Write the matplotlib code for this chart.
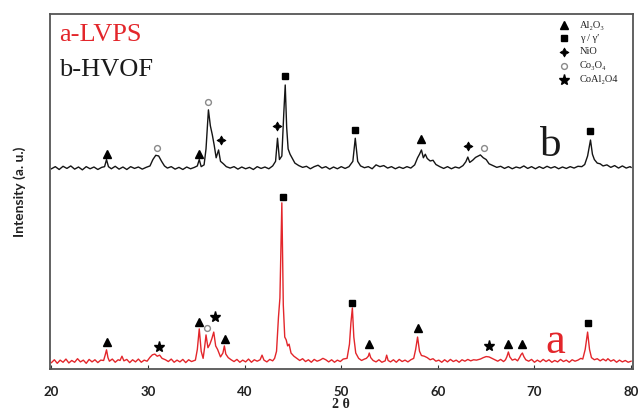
"""
XRD patterns of the LVPS (a) and HVOF (b) coatings with phase markers.
"""

import matplotlib.pyplot as plt

# --- pattern a (LVPS), 2theta / intensity (a.u.) ---
A_TTH = [20.0, 20.3, 20.6, 20.9, 21.2, 21.5, 21.8, 22.1, 22.4, 22.7, 23.0, 23.3, 23.6, 23.9,
         24.2, 24.5, 24.8, 25.1, 25.4, 25.55, 25.7, 25.85, 26.0, 26.3, 26.6, 26.9, 27.1, 27.3,
         27.5, 27.8, 28.1, 28.4, 28.7, 29.0, 29.3, 29.6, 29.9, 30.2, 30.45, 30.7, 30.95, 31.2,
         31.45, 31.8, 32.1, 32.4, 32.7, 33.0, 33.3, 33.6, 33.9, 34.2, 34.5, 34.9, 35.1, 35.3,
         35.5, 35.7, 35.85, 36.0, 36.2, 36.4, 36.6, 36.8, 37.0, 37.2, 37.5, 37.75, 37.9, 38.05,
         38.3, 38.6, 38.9, 39.2, 39.5, 39.8, 40.1, 40.4, 40.7, 41.0, 41.3, 41.6, 41.8, 42.0,
         42.3, 42.6, 42.9, 43.1, 43.3, 43.5, 43.65, 43.85, 44.0, 44.15, 44.3, 44.45, 44.6, 44.8,
         45.1, 45.4, 45.7, 46.0, 46.3, 46.6, 46.9, 47.2, 47.5, 47.8, 48.1, 48.4, 48.7, 49.0,
         49.3, 49.6, 49.9, 50.2, 50.6, 50.85, 51.0, 51.15, 51.3, 51.5, 51.8, 52.1, 52.4, 52.6,
         52.8, 52.9, 53.05, 53.3, 53.6, 53.9, 54.2, 54.55, 54.7, 54.85, 55.1, 55.4, 55.7, 56.0,
         56.3, 56.6, 56.9, 57.2, 57.5, 57.7, 57.9, 58.1, 58.3, 58.6, 58.9, 59.2, 59.5, 59.8,
         60.1, 60.4, 60.7, 61.0, 61.3, 61.6, 61.9, 62.2, 62.5, 62.8, 63.1, 63.4, 63.7, 64.0,
         64.4, 64.7, 65.0, 65.3, 65.6, 65.9, 66.2, 66.5, 66.8, 67.0, 67.15, 67.3, 67.45, 67.7,
         68.0, 68.25, 68.45, 68.6, 68.75, 68.9, 69.1, 69.4, 69.7, 70.0, 70.3, 70.6, 70.9, 71.2,
         71.5, 71.8, 72.1, 72.4, 72.7, 73.0, 73.3, 73.6, 73.9, 74.2, 74.5, 74.8, 75.0, 75.25,
         75.5, 75.7, 75.9, 76.2, 76.5, 76.8, 77.1, 77.4, 77.6, 77.9, 78.2, 78.5, 78.8, 79.1,
         79.4, 79.7, 80.0]
A_INT = [1.8, 2.6, 1.6, 2.5, 1.9, 2.8, 1.7, 2.4, 1.9, 2.9, 2.0, 2.5, 1.6, 2.7,
         2.0, 2.6, 1.8, 2.5, 2.4, 3.8, 5.4, 3.2, 2.2, 2.8, 1.9, 2.6, 2.4, 3.6,
         2.3, 2.7, 1.8, 2.6, 2.0, 2.8, 1.9, 2.5, 2.2, 3.3, 4.0, 4.2, 3.6, 3.9,
         3.0, 2.6, 2.1, 2.8, 1.9, 2.5, 2.0, 2.7, 1.8, 2.6, 2.1, 2.5, 5.5, 11.3,
         5.0, 3.0, 6.0, 9.6, 6.0, 7.0, 8.5, 10.4, 6.5, 5.5, 3.4, 4.5, 6.5, 4.2,
         3.2, 2.6, 2.1, 2.7, 1.9, 2.5, 2.0, 2.8, 1.9, 2.6, 2.2, 2.6, 3.9, 2.5,
         2.0, 2.7, 2.3, 3.0, 5.0, 14.6, 20.0, 46.8, 18.0, 9.0, 8.2, 6.5, 7.0, 4.5,
         3.6, 3.0, 2.4, 2.9, 2.1, 2.6, 1.9, 2.7, 2.2, 2.5, 3.0, 2.6, 2.0, 2.6,
         1.9, 2.5, 2.1, 2.8, 3.0, 7.0, 13.0, 17.2, 9.0, 4.5, 3.0, 2.4, 2.8, 3.0,
         3.6, 4.5, 3.2, 2.4, 2.0, 2.6, 1.9, 2.3, 3.9, 2.4, 2.0, 2.6, 1.9, 2.7,
         2.1, 2.5, 2.0, 2.6, 3.0, 5.5, 9.0, 5.0, 3.8, 3.6, 3.2, 2.6, 2.9, 2.2,
         2.5, 1.9, 2.6, 2.0, 2.7, 2.1, 2.5, 1.9, 2.6, 2.2, 2.7, 2.3, 2.6, 2.5,
         2.8, 3.2, 3.5, 3.4, 3.0, 2.6, 2.2, 2.7, 2.1, 2.6, 3.5, 4.8, 3.4, 2.5,
         2.8, 2.3, 3.2, 4.0, 4.5, 3.5, 2.6, 2.2, 2.7, 1.9, 2.5, 2.0, 2.7, 2.1,
         2.6, 1.9, 2.4, 2.0, 2.7, 2.1, 2.5, 1.9, 2.6, 2.2, 2.5, 3.0, 2.8, 5.5,
         10.4, 5.5, 3.2, 2.6, 2.9, 2.3, 2.8, 2.3, 2.9, 2.2, 2.6, 1.9, 2.5, 2.0,
         2.4, 1.9, 2.2]

# --- pattern b (HVOF) ---
B_TTH = [20.0, 20.4, 20.8, 21.2, 21.6, 22.0, 22.4, 22.8, 23.2, 23.6, 24.0, 24.4, 24.8, 25.2,
         25.5, 25.7, 25.9, 26.2, 26.6, 27.0, 27.4, 27.8, 28.2, 28.6, 29.0, 29.4, 29.8, 30.2,
         30.5, 30.8, 31.1, 31.4, 31.7, 32.0, 32.4, 32.8, 33.2, 33.6, 34.0, 34.4, 34.8, 35.1,
         35.3, 35.5, 35.8, 36.0, 36.25, 36.45, 36.65, 36.85, 37.05, 37.3, 37.5, 37.8, 38.1, 38.5,
         38.9, 39.3, 39.7, 40.1, 40.5, 40.9, 41.3, 41.7, 42.1, 42.5, 42.9, 43.2, 43.4, 43.6,
         43.85, 44.05, 44.2, 44.35, 44.5, 44.7, 44.9, 45.2, 45.6, 46.0, 46.4, 46.8, 47.2, 47.6,
         48.0, 48.4, 48.8, 49.2, 49.6, 50.0, 50.4, 50.8, 51.2, 51.45, 51.7, 52.0, 52.4, 52.8,
         53.2, 53.6, 54.0, 54.4, 54.8, 55.2, 55.6, 56.0, 56.4, 56.8, 57.2, 57.6, 57.9, 58.1,
         58.3, 58.5, 58.7, 58.9, 59.2, 59.5, 59.8, 60.2, 60.6, 61.0, 61.4, 61.8, 62.2, 62.6,
         62.9, 63.1, 63.3, 63.6, 63.9, 64.2, 64.4, 64.7, 65.0, 65.3, 65.7, 66.1, 66.5, 66.9,
         67.3, 67.7, 68.1, 68.5, 68.9, 69.3, 69.7, 70.1, 70.5, 70.9, 71.3, 71.7, 72.1, 72.5,
         72.9, 73.3, 73.7, 74.1, 74.5, 74.9, 75.2, 75.5, 75.8, 76.0, 76.2, 76.5, 76.8, 77.1,
         77.5, 77.9, 78.3, 78.7, 79.1, 79.5, 79.9, 80.0]
B_INT = [56.4, 57.0, 56.2, 57.1, 56.5, 57.2, 56.3, 56.9, 56.1, 57.0, 56.4, 56.9, 56.2, 56.8,
         57.0, 59.0, 57.0, 56.4, 57.1, 56.3, 56.9, 56.2, 57.0, 56.5, 56.9, 56.3, 56.8, 57.2,
         59.0, 60.2, 60.0, 58.5, 57.2, 56.6, 57.0, 56.3, 56.8, 56.2, 56.9, 56.4, 56.8, 57.2,
         59.0, 57.0, 57.5, 62.0, 73.0, 68.5, 66.0, 63.0, 59.5, 61.7, 58.5, 57.8, 57.0, 56.6,
         57.0, 56.3, 56.9, 56.4, 56.8, 56.2, 57.0, 56.5, 56.9, 56.4, 57.2, 58.5, 65.0, 59.0,
         60.0, 72.0, 80.0, 68.0, 62.0, 60.5, 59.5, 58.0, 57.3, 56.8, 57.1, 56.4, 57.0, 57.4,
         56.6, 57.0, 56.3, 56.9, 56.4, 57.0, 56.5, 57.0, 58.5, 65.0, 58.5, 57.2, 56.7, 57.0,
         56.4, 57.5, 57.0, 57.3, 56.6, 57.0, 56.4, 56.9, 56.5, 57.0, 56.6, 57.5, 59.5, 60.5,
         61.7, 59.5, 60.5, 59.3, 58.6, 58.8, 57.6, 57.0, 56.5, 57.0, 56.4, 56.9, 56.6, 57.3,
         58.4, 59.7, 58.2, 58.8, 59.6, 60.0, 60.3, 59.5, 59.0, 57.8, 57.3, 56.8, 57.1, 56.5,
         57.0, 56.4, 56.9, 56.6, 57.2, 56.5, 57.0, 56.4, 57.0, 56.5, 57.1, 56.6, 57.0, 56.4,
         56.9, 56.5, 57.0, 56.6, 57.1, 57.0, 57.6, 60.0, 64.5, 60.5, 59.0, 58.0, 57.8, 57.2,
         57.5, 56.8, 57.3, 56.6, 57.2, 56.6, 57.0, 56.8]

# --- phase markers: (2theta, intensity) per phase ---
MARK_A = {
    "tri": ([25.7, 35.3, 38.0, 52.9, 57.9, 67.3, 68.75], [7.6, 13.2, 8.5, 7.0, 11.5, 7.0, 7.0]),
    "sq": ([43.95, 51.15, 75.5], [48.5, 18.6, 13.0]),
    "circ": ([36.1], [11.5]),
    "star": ([31.1, 36.9, 65.3], [6.2, 14.6, 6.5]),
}
MARK_B = {
    "tri": ([25.7, 35.3, 58.3], [60.6, 60.6, 64.8]),
    "sq": ([44.2, 51.45, 75.8], [82.5, 67.3, 67.0]),
    "circ": ([30.9, 36.25, 64.8], [62.3, 75.2, 62.3]),
    "plus": ([37.6, 43.3, 63.1], [64.5, 68.5, 62.8]),
}

LEGEND_KEYS = ["tri", "sq", "plus", "circ", "star"]
LEGEND_LABELS = ["Al\u2082O\u2083", "\u03b3 / \u03b3\u2032", "NiO", "Co\u2083O\u2084", "CoAl\u2082O4"]
LEGEND_Y = [96.9, 93.2, 89.3, 85.4, 81.5]

X_TICKS = [20, 30, 40, 50, 60, 70, 80]

RED = "#e3262b"
SERIF = ["Liberation Serif", "DejaVu Serif"]

STYLE = {
    "tri": dict(marker="^", ms=5.2, color="black", mec="black"),
    "sq": dict(marker="s", ms=4.3, color="black", mec="black"),
    "circ": dict(marker="o", ms=4.2, mfc="white", mec="#8a8a8a", mew=1.0),
    "star": dict(marker="*", ms=8, color="black", mec="black"),
    "plus": dict(marker=(4, 1, 0), ms=6.5, color="black", mec="black", mew=0.6),
}


def draw_markers(ax, marks):
    for key, (xs, ys) in marks.items():
        ax.plot(xs, ys, ls="none", **STYLE[key])


def main():
    fig = plt.figure(figsize=(6.42, 4.12), dpi=100)
    ax = fig.add_axes([50 / 642, 1 - 369 / 412, 583 / 642, 355 / 412])

    ax.plot(A_TTH, A_INT, color=RED, lw=1.0)
    ax.plot(B_TTH, B_INT, color="#151515", lw=1.0)
    draw_markers(ax, MARK_A)
    draw_markers(ax, MARK_B)

    # legend box drawn by hand, as in the figure
    for key, label, y in zip(LEGEND_KEYS, LEGEND_LABELS, LEGEND_Y):
        ax.plot([73.1], [y], ls="none", **STYLE[key])
        ax.text(74.7, y, label, fontsize=7.5, family=SERIF, va="center", ha="left", color="#222222")

    ax.text(0.016, 0.941, "a-LVPS", transform=ax.transAxes, fontsize=19, family=SERIF,
            color=RED, va="center", ha="left")
    ax.text(0.016, 0.842, "b-HVOF", transform=ax.transAxes, fontsize=19, family=SERIF,
            color="#1a1a1a", va="center", ha="left")
    ax.text(71.7, 63.0, "b", fontsize=31, family=SERIF, color="#1a1a1a", ha="center", va="center")
    ax.text(72.2, 7.5, "a", fontsize=32, family=SERIF, color=RED, ha="center", va="center")

    ax.set_xlim(19.85, 80.2)
    ax.set_ylim(0, 100)
    ax.set_xticks(X_TICKS)
    ax.set_yticks([])
    ax.tick_params(axis="x", direction="in", length=3, width=0.8, pad=12, labelsize=9.5,
                   colors="#333333", labelcolor="#222222")
    for lab in ax.get_xticklabels():
        lab.set_fontweight("bold")
        lab.set_family("Lato")
    for sp in ax.spines.values():
        sp.set_color("#555555")
        sp.set_linewidth(1.3)

    ax.set_ylabel("Intensity (a. u.)", fontsize=10, fontweight="bold", family="Lato",
                  color="#222222", labelpad=17)
    fig.text(341 / 642, 1 - 411 / 412, "2 \u03b8", fontsize=10, fontweight="bold", family=SERIF,
             ha="center", va="bottom", color="#222222")

    fig.savefig("out.png", dpi=100)
    plt.close(fig)


if __name__ == "__main__":
    main()
